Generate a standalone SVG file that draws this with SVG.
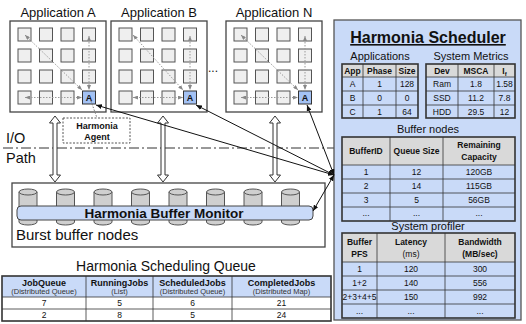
<svg xmlns="http://www.w3.org/2000/svg" width="526" height="324" viewBox="0 0 526 324">
  <style>
    text { font-family: "Liberation Sans", Arial, sans-serif; fill: #111; }
    .ttl { font-size: 13px; text-anchor: middle; }
    .box { fill: #fff; stroke: #444; stroke-width: 1.3; }
    .cell { fill: #efefef; stroke: #555; stroke-width: 1; }
    .acell { fill: #a4c2f4; stroke: #333; stroke-width: 1; }
    .atx { font-size: 9px; font-weight: bold; text-anchor: middle; }
    .dot { fill: none; stroke: #9a9a9a; stroke-width: 1; stroke-dasharray: 1.5 1.5; marker-start: url(#dh); marker-end: url(#dh); }
    .conn { fill: none; stroke: #111; stroke-width: 1; marker-start: url(#ah); marker-end: url(#ah); }
    .hollow { fill: #fff; stroke: #333; stroke-width: 1; }
    .panel { fill: #c9daf8; stroke: #555; stroke-width: 1.3; }
    .hdr { fill: #d9d9d9; }
    .tout { fill: none; stroke: #333; stroke-width: 1.6; }
    .tin { stroke: #333; stroke-width: 0.8; }
    .sec { font-size: 11px; text-anchor: middle; }
    .th { font-size: 8.5px; font-weight: bold; text-anchor: middle; }
    .td { font-size: 8.5px; text-anchor: middle; }
    .qh { font-size: 9px; font-weight: bold; text-anchor: middle; }
    .sub { font-size: 7.5px; text-anchor: middle; fill: #333; }
    .cyl { fill: #cfcfcf; stroke: #555; stroke-width: 1; }
  </style>
  <defs>
    <marker id="dh" markerUnits="userSpaceOnUse" markerWidth="5" markerHeight="4" refX="5" refY="2" orient="auto-start-reverse">
      <path d="M0,0 L5,2 L0,4 z" fill="#888"/>
    </marker>
    <marker id="ah" markerUnits="userSpaceOnUse" markerWidth="6" markerHeight="5" refX="6" refY="2.5" orient="auto-start-reverse">
      <path d="M0,0 L6,2.5 L0,5 z" fill="#111"/>
    </marker>
  </defs>

  <!-- application grids -->
  <g id="app-a">
    <text class="ttl" x="58" y="17">Application A</text>
    <rect class="box" x="10" y="21" width="96" height="91"/>
    <g>
      <rect class="cell" x="18" y="28" width="13" height="13"/><rect class="cell" x="39.5" y="28" width="13" height="13"/><rect class="cell" x="61" y="28" width="13" height="13"/><rect class="cell" x="82.5" y="28" width="13" height="13"/>
      <rect class="cell" x="18" y="49" width="13" height="13"/><rect class="cell" x="39.5" y="49" width="13" height="13"/><rect class="cell" x="61" y="49" width="13" height="13"/><rect class="cell" x="82.5" y="49" width="13" height="13"/>
      <rect class="cell" x="18" y="70" width="13" height="13"/><rect class="cell" x="39.5" y="70" width="13" height="13"/><rect class="cell" x="61" y="70" width="13" height="13"/><rect class="cell" x="82.5" y="70" width="13" height="13"/>
      <rect class="cell" x="18" y="91" width="13" height="13"/><rect class="cell" x="39.5" y="91" width="13" height="13"/><rect class="cell" x="61" y="91" width="13" height="13"/>
      <rect class="acell" x="82.5" y="91" width="13" height="13"/>
      <text class="atx" x="89" y="100.5">A</text>
    </g>
    <path class="dot" d="M25,35 L82,90"/>
    <path class="dot" d="M89,36 L89,90"/>
    <path class="dot" d="M25,97.5 L82,97.5"/>
  </g>

  <g id="app-b">
    <text class="ttl" x="159" y="17">Application B</text>
    <rect class="box" x="111" y="21" width="96" height="91"/>
    <g>
      <rect class="cell" x="119" y="28" width="13" height="13"/><rect class="cell" x="140.5" y="28" width="13" height="13"/><rect class="cell" x="162" y="28" width="13" height="13"/><rect class="cell" x="183.5" y="28" width="13" height="13"/>
      <rect class="cell" x="119" y="49" width="13" height="13"/><rect class="cell" x="140.5" y="49" width="13" height="13"/><rect class="cell" x="162" y="49" width="13" height="13"/><rect class="cell" x="183.5" y="49" width="13" height="13"/>
      <rect class="cell" x="119" y="70" width="13" height="13"/><rect class="cell" x="140.5" y="70" width="13" height="13"/><rect class="cell" x="162" y="70" width="13" height="13"/><rect class="cell" x="183.5" y="70" width="13" height="13"/>
      <rect class="cell" x="119" y="91" width="13" height="13"/><rect class="cell" x="140.5" y="91" width="13" height="13"/><rect class="cell" x="162" y="91" width="13" height="13"/>
      <rect class="acell" x="183.5" y="91" width="13" height="13"/>
      <text class="atx" x="190" y="100.5">A</text>
    </g>
    <path class="dot" d="M133,35 L183,90"/>
    <path class="dot" d="M190,36 L190,90"/>
    <path class="dot" d="M133,97.5 L183,97.5"/>
  </g>

  <text x="213" y="72" font-size="12" text-anchor="middle">...</text>

  <g id="app-n">
    <text class="ttl" x="274" y="17">Application N</text>
    <rect class="box" x="226" y="21" width="96" height="91"/>
    <g>
      <rect class="cell" x="234" y="28" width="13" height="13"/><rect class="cell" x="255.5" y="28" width="13" height="13"/><rect class="cell" x="277" y="28" width="13" height="13"/><rect class="cell" x="298.5" y="28" width="13" height="13"/>
      <rect class="cell" x="234" y="49" width="13" height="13"/><rect class="cell" x="255.5" y="49" width="13" height="13"/><rect class="cell" x="277" y="49" width="13" height="13"/><rect class="cell" x="298.5" y="49" width="13" height="13"/>
      <rect class="cell" x="234" y="70" width="13" height="13"/><rect class="cell" x="255.5" y="70" width="13" height="13"/><rect class="cell" x="277" y="70" width="13" height="13"/><rect class="cell" x="298.5" y="70" width="13" height="13"/>
      <rect class="cell" x="234" y="91" width="13" height="13"/><rect class="cell" x="255.5" y="91" width="13" height="13"/><rect class="cell" x="277" y="91" width="13" height="13"/>
      <rect class="acell" x="298.5" y="91" width="13" height="13"/>
      <text class="atx" x="305" y="100.5">A</text>
    </g>
    <path class="dot" d="M241,35 L298,90"/>
    <path class="dot" d="M305,36 L305,90"/>
    <path class="dot" d="M241,97.5 L298,97.5"/>
  </g>

  <!-- I/O path boundary -->
  <g id="io-path">
    <line x1="3" y1="148" x2="334" y2="148" stroke="#333" stroke-width="1" stroke-dasharray="10 3 2 3"/>
    <text x="6" y="143" font-size="14.5">I/O</text>
    <text x="6" y="163" font-size="14.5">Path</text>
  </g>

  <g id="harmonia-agent">
    <rect x="63" y="118" width="67" height="25" fill="#fff" stroke="#555" stroke-width="1" stroke-dasharray="2 1.5"/>
    <text x="97" y="129" font-size="9" font-weight="bold" text-anchor="middle">Harmonia</text>
    <text x="97" y="140" font-size="9" font-weight="bold" text-anchor="middle">Agent</text>
  </g>

  <!-- data transfer arrows between applications and burst buffers -->
  <g id="io-arrows">
    <polygon class="hollow" points="55,116 60.5,123 57,123 57,175 60.5,175 55,182 49.5,175 53,175 53,123 49.5,123"/>
    <polygon class="hollow" points="163,116 168.5,123 165,123 165,175 168.5,175 163,182 157.5,175 161,175 161,123 157.5,123"/>
    <polygon class="hollow" points="275,116 280.5,123 277,123 277,175 280.5,175 275,182 269.5,175 273,175 273,123 269.5,123"/>
  </g>

  <g id="burst-buffer">
    <rect class="box" x="12" y="183" width="313" height="64"/>
    <g id="cylinders">
      <path class="cyl" d="M19,192 v30 a9,3 0 0 0 18,0 v-30"/><ellipse class="cyl" cx="28" cy="192" rx="9" ry="3"/>
      <path class="cyl" d="M56.5,192 v30 a9,3 0 0 0 18,0 v-30"/><ellipse class="cyl" cx="65.5" cy="192" rx="9" ry="3"/>
      <path class="cyl" d="M94,192 v30 a9,3 0 0 0 18,0 v-30"/><ellipse class="cyl" cx="103" cy="192" rx="9" ry="3"/>
      <path class="cyl" d="M131.5,192 v30 a9,3 0 0 0 18,0 v-30"/><ellipse class="cyl" cx="140.5" cy="192" rx="9" ry="3"/>
      <path class="cyl" d="M169,192 v30 a9,3 0 0 0 18,0 v-30"/><ellipse class="cyl" cx="178" cy="192" rx="9" ry="3"/>
      <path class="cyl" d="M206.5,192 v30 a9,3 0 0 0 18,0 v-30"/><ellipse class="cyl" cx="215.5" cy="192" rx="9" ry="3"/>
      <path class="cyl" d="M244,192 v30 a9,3 0 0 0 18,0 v-30"/><ellipse class="cyl" cx="253" cy="192" rx="9" ry="3"/>
      <path class="cyl" d="M281.5,192 v30 a9,3 0 0 0 18,0 v-30"/><ellipse class="cyl" cx="290.5" cy="192" rx="9" ry="3"/>
    </g>
    <text x="16" y="240" font-size="15">Burst buffer nodes</text>
  </g>

  <g id="buffer-monitor">
    <rect x="17" y="206" width="296" height="14" rx="4" fill="#c9daf8" stroke="#444" stroke-width="1"/>
    <text x="164" y="218" font-size="13.5" font-weight="bold" text-anchor="middle">Harmonia Buffer Monitor</text>
  </g>

  <!-- scheduling queue -->
  <g id="scheduling-queue">
    <text x="166" y="271" font-size="14" text-anchor="middle">Harmonia Scheduling Queue</text>
    <rect x="2" y="276" width="329" height="21" fill="#c9daf8"/>
    <rect x="2" y="297" width="329" height="24" fill="#fff"/>
    <g class="tin">
      <line x1="2" y1="297" x2="331" y2="297"/><line x1="2" y1="309" x2="331" y2="309"/>
      <line x1="86" y1="276" x2="86" y2="321"/><line x1="153" y1="276" x2="153" y2="321"/><line x1="232" y1="276" x2="232" y2="321"/>
    </g>
    <rect class="tout" x="2" y="276" width="329" height="45"/>
    <text class="qh" x="44" y="286">JobQueue</text><text class="sub" x="44" y="294">(Distributed Queue)</text>
    <text class="qh" x="119.5" y="286">RunningJobs</text><text class="sub" x="119.5" y="294">(List)</text>
    <text class="qh" x="192.5" y="286">ScheduledJobs</text><text class="sub" x="192.5" y="294">(Distributed Queue)</text>
    <text class="qh" x="281.5" y="286">CompletedJobs</text><text class="sub" x="281.5" y="294">(Distributed Map)</text>
    <text class="td" x="44" y="306">7</text><text class="td" x="119.5" y="306">5</text><text class="td" x="192.5" y="306">6</text><text class="td" x="281.5" y="306">21</text>
    <text class="td" x="44" y="318">2</text><text class="td" x="119.5" y="318">8</text><text class="td" x="192.5" y="318">5</text><text class="td" x="281.5" y="318">24</text>
  </g>

  <!-- scheduler -->
  <g id="harmonia-scheduler">
    <rect class="panel" x="334" y="20" width="187" height="300"/>
    <text x="428" y="43" font-size="16" font-weight="bold" text-anchor="middle" text-decoration="underline">Harmonia Scheduler</text>

    <text class="sec" x="380" y="60">Applications</text>
    <rect class="hdr" x="342" y="64" width="76" height="13"/>
    <g class="tin">
      <line x1="342" y1="77" x2="418" y2="77"/><line x1="342" y1="91" x2="418" y2="91"/><line x1="342" y1="105" x2="418" y2="105"/>
      <line x1="363" y1="64" x2="363" y2="118"/><line x1="396" y1="64" x2="396" y2="118"/>
    </g>
    <rect class="tout" x="342" y="64" width="76" height="54"/>
    <text class="th" x="352.5" y="74">App</text><text class="th" x="379.5" y="74">Phase</text><text class="th" x="407" y="74">Size</text>
    <text class="td" x="352.5" y="87">A</text><text class="td" x="379.5" y="87">1</text><text class="td" x="407" y="87">128</text>
    <text class="td" x="352.5" y="101">B</text><text class="td" x="379.5" y="101">0</text><text class="td" x="407" y="101">0</text>
    <text class="td" x="352.5" y="115">C</text><text class="td" x="379.5" y="115">1</text><text class="td" x="407" y="115">64</text>

    <text class="sec" x="471" y="60">System Metrics</text>
    <rect class="hdr" x="426" y="64" width="89" height="13"/>
    <g class="tin">
      <line x1="426" y1="77" x2="515" y2="77"/><line x1="426" y1="91" x2="515" y2="91"/><line x1="426" y1="105" x2="515" y2="105"/>
      <line x1="458" y1="64" x2="458" y2="118"/><line x1="494" y1="64" x2="494" y2="118"/>
    </g>
    <rect class="tout" x="426" y="64" width="89" height="54"/>
    <text class="th" x="442" y="74">Dev</text><text class="th" x="476" y="74">MSCA</text><text class="th" x="504.5" y="74">I<tspan font-size="6" dy="2">f</tspan></text>
    <text class="td" x="442" y="87">Ram</text><text class="td" x="476" y="87">1.8</text><text class="td" x="504.5" y="87">1.58</text>
    <text class="td" x="442" y="101">SSD</text><text class="td" x="476" y="101">11.2</text><text class="td" x="504.5" y="101">7.8</text>
    <text class="td" x="442" y="115">HDD</text><text class="td" x="476" y="115">29.5</text><text class="td" x="504.5" y="115">12</text>

    <text class="sec" x="428" y="133">Buffer nodes</text>
    <rect class="hdr" x="342" y="137" width="173" height="28"/>
    <g class="tin">
      <line x1="342" y1="165" x2="515" y2="165"/><line x1="342" y1="179" x2="515" y2="179"/><line x1="342" y1="193" x2="515" y2="193"/><line x1="342" y1="207" x2="515" y2="207"/>
      <line x1="390" y1="137" x2="390" y2="221"/><line x1="443" y1="137" x2="443" y2="221"/>
    </g>
    <rect class="tout" x="342" y="137" width="173" height="84"/>
    <text class="th" x="366" y="154">BufferID</text><text class="th" x="416.5" y="154">Queue Size</text>
    <text class="th" x="479" y="148">Remaining</text><text class="th" x="479" y="160">Capacity</text>
    <text class="td" x="366" y="175">1</text><text class="td" x="416.5" y="175">12</text><text class="td" x="479" y="175">120GB</text>
    <text class="td" x="366" y="189">2</text><text class="td" x="416.5" y="189">14</text><text class="td" x="479" y="189">115GB</text>
    <text class="td" x="366" y="203">3</text><text class="td" x="416.5" y="203">5</text><text class="td" x="479" y="203">56GB</text>
    <text class="td" x="366" y="216">...</text><text class="td" x="416.5" y="216">...</text><text class="td" x="479" y="216">...</text>

    <text class="sec" x="428" y="230">System profiler</text>
    <rect class="hdr" x="342" y="233" width="173" height="29"/>
    <g class="tin">
      <line x1="342" y1="262" x2="515" y2="262"/><line x1="342" y1="276" x2="515" y2="276"/><line x1="342" y1="290" x2="515" y2="290"/><line x1="342" y1="304" x2="515" y2="304"/>
      <line x1="377" y1="233" x2="377" y2="318"/><line x1="445" y1="233" x2="445" y2="318"/>
    </g>
    <rect class="tout" x="342" y="233" width="173" height="85"/>
    <text class="th" x="359.5" y="245">Buffer</text><text class="th" x="359.5" y="257">PFS</text>
    <text class="th" x="411" y="245">Latency</text><text class="td" x="411" y="257">(ms)</text>
    <text class="th" x="480" y="245">Bandwidth</text><text class="th" x="480" y="257">(MB/sec)</text>
    <text class="td" x="359.5" y="272">1</text><text class="td" x="411" y="272">120</text><text class="td" x="480" y="272">300</text>
    <text class="td" x="359.5" y="286">1+2</text><text class="td" x="411" y="286">140</text><text class="td" x="480" y="286">556</text>
    <text class="td" x="359.5" y="300">2+3+4+5</text><text class="td" x="411" y="300">150</text><text class="td" x="480" y="300">992</text>
    <text class="td" x="359.5" y="314">...</text><text class="td" x="411" y="314">...</text><text class="td" x="480" y="314">...</text>
  </g>

  <!-- monitoring connectors -->
  <g id="connectors">
    <line x1="91" y1="101" x2="97" y2="118" stroke="#777" stroke-width="1" stroke-dasharray="1.5 1.5"/>
    <path class="conn" d="M96,105 L334,175"/>
    <path class="conn" d="M196,105 L334,175"/>
    <path class="conn" d="M307,105 L334,175"/>
    <path class="conn" d="M313,211 L334,175"/>
  </g>
</svg>
